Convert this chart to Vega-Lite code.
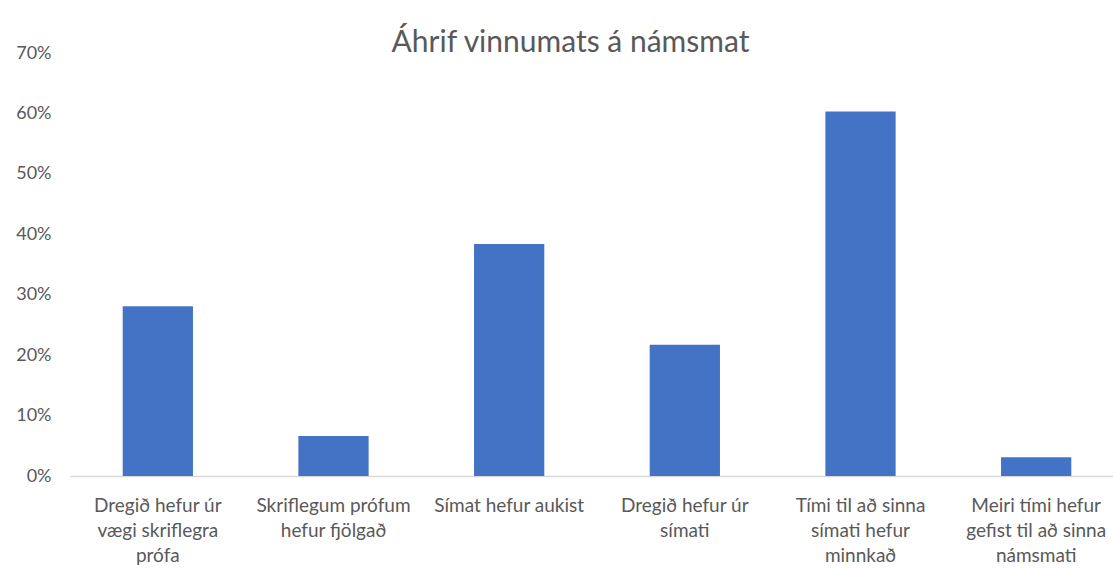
{
  "$schema": "https://vega.github.io/schema/vega-lite/v6.json",
  "width": 1043,
  "height": 423,
  "autosize": {"type": "none"},
  "padding": {"left": 70, "top": 53, "right": 0, "bottom": 92},
  "background": "white",
  "title": {
    "text": "Áhrif vinnumats á námsmat",
    "anchor": "middle",
    "frame": "group",
    "font": "Lato",
    "fontSize": 30,
    "fontWeight": "normal",
    "color": "#595959",
    "baseline": "alphabetic",
    "offset": -5,
    "dx": -21,
    "dy": 33
  },
  "data": {
    "values": [
      {"label": "Dregið hefur úr|vægi skriflegra|prófa", "value": 0.281},
      {"label": "Skriflegum prófum|hefur fjölgað", "value": 0.066},
      {"label": "Símat hefur aukist", "value": 0.384},
      {"label": "Dregið hefur úr|símati", "value": 0.217},
      {"label": "Tími til að sinna|símati hefur|minnkað", "value": 0.603},
      {"label": "Meiri tími hefur|gefist til að sinna|námsmati", "value": 0.031}
    ]
  },
  "mark": {"type": "bar", "color": "#4472C4"},
  "encoding": {
    "x": {
      "field": "label",
      "type": "nominal",
      "sort": null,
      "scale": {"range": [0, 1054], "paddingInner": 0.6, "paddingOuter": 0.3},
      "axis": {
        "title": null,
        "labelAngle": 0,
        "labelExpr": "split(datum.label, '|')",
        "labelFont": "Lato",
        "labelFontSize": 19,
        "labelColor": "#595959",
        "labelLineHeight": 25,
        "labelPadding": 20,
        "labelBaseline": "top",
        "ticks": false,
        "domainColor": "#d9d9d9",
        "domainWidth": 1.3,
        "grid": false,
        "labelLimit": 0
      }
    },
    "y": {
      "field": "value",
      "type": "quantitative",
      "scale": {"domain": [0, 0.7], "nice": false},
      "axis": {
        "title": null,
        "format": ".0%",
        "values": [0, 0.1, 0.2, 0.3, 0.4, 0.5, 0.6, 0.7],
        "labelFont": "Lato",
        "labelFontSize": 18,
        "labelColor": "#595959",
        "labelPadding": 19,
        "ticks": false,
        "domain": false,
        "grid": false
      }
    }
  },
  "config": {"view": {"stroke": null}}
}
